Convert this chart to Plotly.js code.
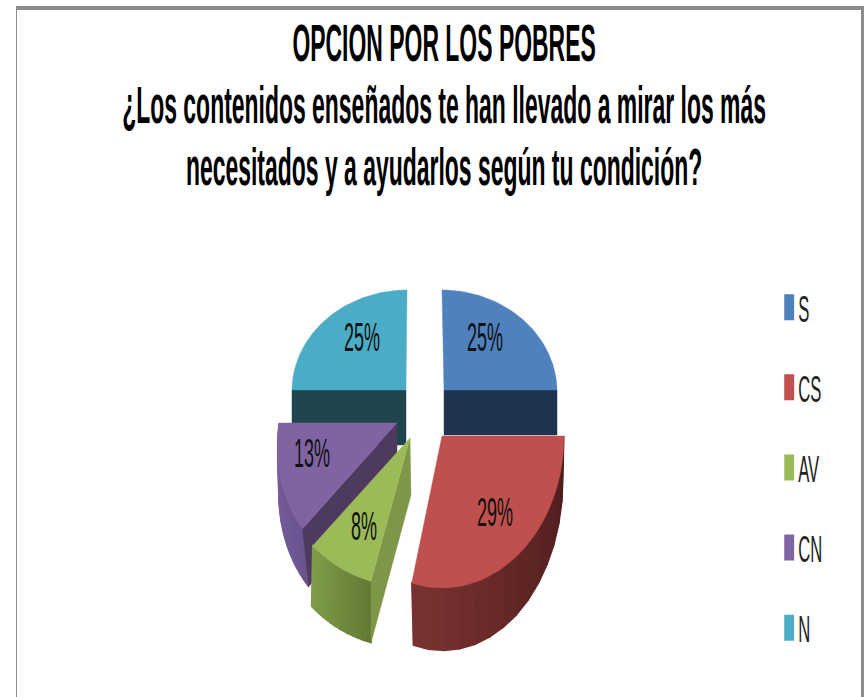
<!DOCTYPE html>
<html><head><meta charset="utf-8">
<script src="https://cdn.plot.ly/plotly-3.0.1.min.js"></script>
<style>html,body{margin:0;padding:0;background:#fff;overflow:hidden;width:864px;height:697px}
#wrap{width:864px;height:697px;overflow:hidden}
#chart{width:1920px;height:697px;transform:scale(.45,1);transform-origin:0 0}</style></head>
<body><div id="wrap"><div id="chart"></div></div>
<script>
// Data
var categories = ['S','CS','AV','CN','N'];
var percents = [25,29,8,13,25];
var colors = ['#4f81bd','#c0504d','#9bbb59','#8064a2','#4bacc6'];
var titleLines = ['OPCION POR LOS POBRES','¿Los contenidos enseñados te han llevado a mirar los más','necesitados y a ayudarlos según tu condición?'];

// Perspective geometry of each exploded slice, in screen-sized axis units
var geom = {
 S:{cx:444,cy:390,rx:113,ru:100,rd:100,sk:.02,bx:444,by:435,brx:113,bru:100,brd:100,bsk:0,cut:'end',cutColor:'#1f3350',lx:485,ly:341},
 CS:{cx:442,cy:436,rx:122,ru:100,rd:152,sk:0,bx:443,by:480,brx:120,bru:100,brd:170,bsk:0,side:['#4a1b1b','#7a3232'],lx:495,ly:516},
 AV:{cx:410,cy:438,rx:137,ru:100,rd:148,sk:-.034,bx:411,by:495,brx:140,bru:100,brd:152,bsk:-.034,side:['#627a35','#7f9d49'],cut:'start',cutColor:'#7d9648',lx:364,ly:530},
 CN:{cx:397,cy:423,rx:118,ru:100,rd:145,sk:-.13,bx:397,by:480,brx:118,bru:100,brd:146,bsk:-.07,side:['#6a5390','#7a5f9a'],cut:'start',cutColor:'#4f3a5f',lx:312,ly:457},
 N:{cx:406,cy:390,rx:114,ru:100,rd:100,sk:-.01,bx:406,by:445,brx:114,bru:100,brd:100,bsk:0,cut:'start',cutColor:'#1f454e',lx:362,ly:341}
};
function topPt(g,a){var r=a*Math.PI/180,c=Math.cos(r),dy=c>0?-g.ru*c:-g.rd*c;return [g.cx+g.rx*Math.sin(r)+g.sk*dy,g.cy+dy];}
function botPt(g,a){var r=a*Math.PI/180,c=Math.cos(r),dy=c>0?-g.bru*c:-g.brd*c;return [g.bx+g.brx*Math.sin(r)+g.bsk*dy,g.by+dy];}
function poly(pts,col,w){return {type:'scatter',mode:'lines',x:pts.map(function(p){return p[0]}).concat(pts[0][0]),y:pts.map(function(p){return p[1]}).concat(pts[0][1]),
  fill:'toself',fillcolor:col,line:{color:col,width:w||.6},hoverinfo:'skip',showlegend:false};}
function mix(a,b,t){function h(s,i){return parseInt(s.substr(i,2),16)}
  return 'rgb('+[1,3,5].map(function(i){return Math.round(h(a,i)+(h(b,i)-h(a,i))*t)}).join(',')+')';}

var total=percents.reduce(function(a,b){return a+b},0), spans={}, acc=0;
categories.forEach(function(c,i){spans[c]=[acc/total*360,(acc+percents[i])/total*360];acc+=percents[i];});

var traces=[];
['N','S','CN','AV','CS'].forEach(function(c){
  var g=geom[c],a0=spans[c][0],a1=spans[c][1],n=14,i,pts=[];
  if(g.side){for(i=0;i<n;i++){var s=a0+(a1-a0)*i/n,e=a0+(a1-a0)*(i+1)/n;
     traces.push(poly([topPt(g,s),topPt(g,e),botPt(g,e),botPt(g,s)],mix(g.side[0],g.side[1],(i+.5)/n),2.5));}}
  if(g.cut){var a=g.cut==='end'?a1:a0;
     traces.push(poly([[g.cx,g.cy],topPt(g,a),botPt(g,a),[g.bx,g.by]],g.cutColor));}
  pts.push([g.cx,g.cy]);
  for(i=0;i<=48;i++)pts.push(topPt(g,a0+(a1-a0)*i/48));
  traces.push(poly(pts,colors[categories.indexOf(c)]));
});
traces.push({type:'scatter',mode:'text',x:categories.map(function(c){return geom[c].lx}),y:categories.map(function(c){return geom[c].ly}),
  text:percents.map(function(v){return v+'%'}),textposition:'middle center',
  textfont:{family:'"Liberation Sans Narrow","Liberation Sans",sans-serif',size:40,color:'#111'},hoverinfo:'skip',showlegend:false});
categories.forEach(function(c,i){traces.push({type:'scatter',mode:'markers',x:[null],y:[null],name:c,legendgroup:c,
  marker:{symbol:'square',size:16,color:colors[i]},hoverinfo:'skip'});});

var frame='#8c8c8c';
var layout={width:1920,height:697,margin:{l:0,r:0,t:0,b:0},paper_bgcolor:'#fff',plot_bgcolor:'#fff',
 xaxis:{range:[0,864],visible:false,fixedrange:true},yaxis:{range:[697,0],visible:false,fixedrange:true},
 title:{text:titleLines.map(function(t){return '<span style="font-size:51px">'+t+'</span>'}).join('<br>'),x:.514,xanchor:'center',y:.913,yanchor:'top',xref:'paper',yref:'paper',
   font:{family:'"Liberation Sans",Arial,sans-serif',size:48,weight:700,color:'#000'}},
 legend:{x:.903,xanchor:'left',y:.603,yanchor:'top',tracegroupgap:29,bgcolor:'rgba(0,0,0,0)',itemclick:false,itemdoubleclick:false,
   font:{family:'"Liberation Sans Narrow","Liberation Sans",sans-serif',size:37,color:'#222'}},
 shapes:[
  {type:'rect',xref:'x',yref:'y',x0:16,x1:864,y0:6,y1:10,fillcolor:frame,line:{width:0}},
  {type:'rect',xref:'x',yref:'y',x0:16,x1:17,y0:6,y1:697,fillcolor:frame,line:{width:0}},
  {type:'rect',xref:'x',yref:'y',x0:861,x1:864,y0:6,y1:697,fillcolor:frame,line:{width:0}}
 ]};
Plotly.newPlot('chart',traces,layout,{displayModeBar:false,staticPlot:true}).then(function(){
  document.querySelectorAll('#chart .legendpoints path').forEach(function(p){p.setAttribute('d','M11,13H-11V-13H11Z');});
});
</script></body></html>
